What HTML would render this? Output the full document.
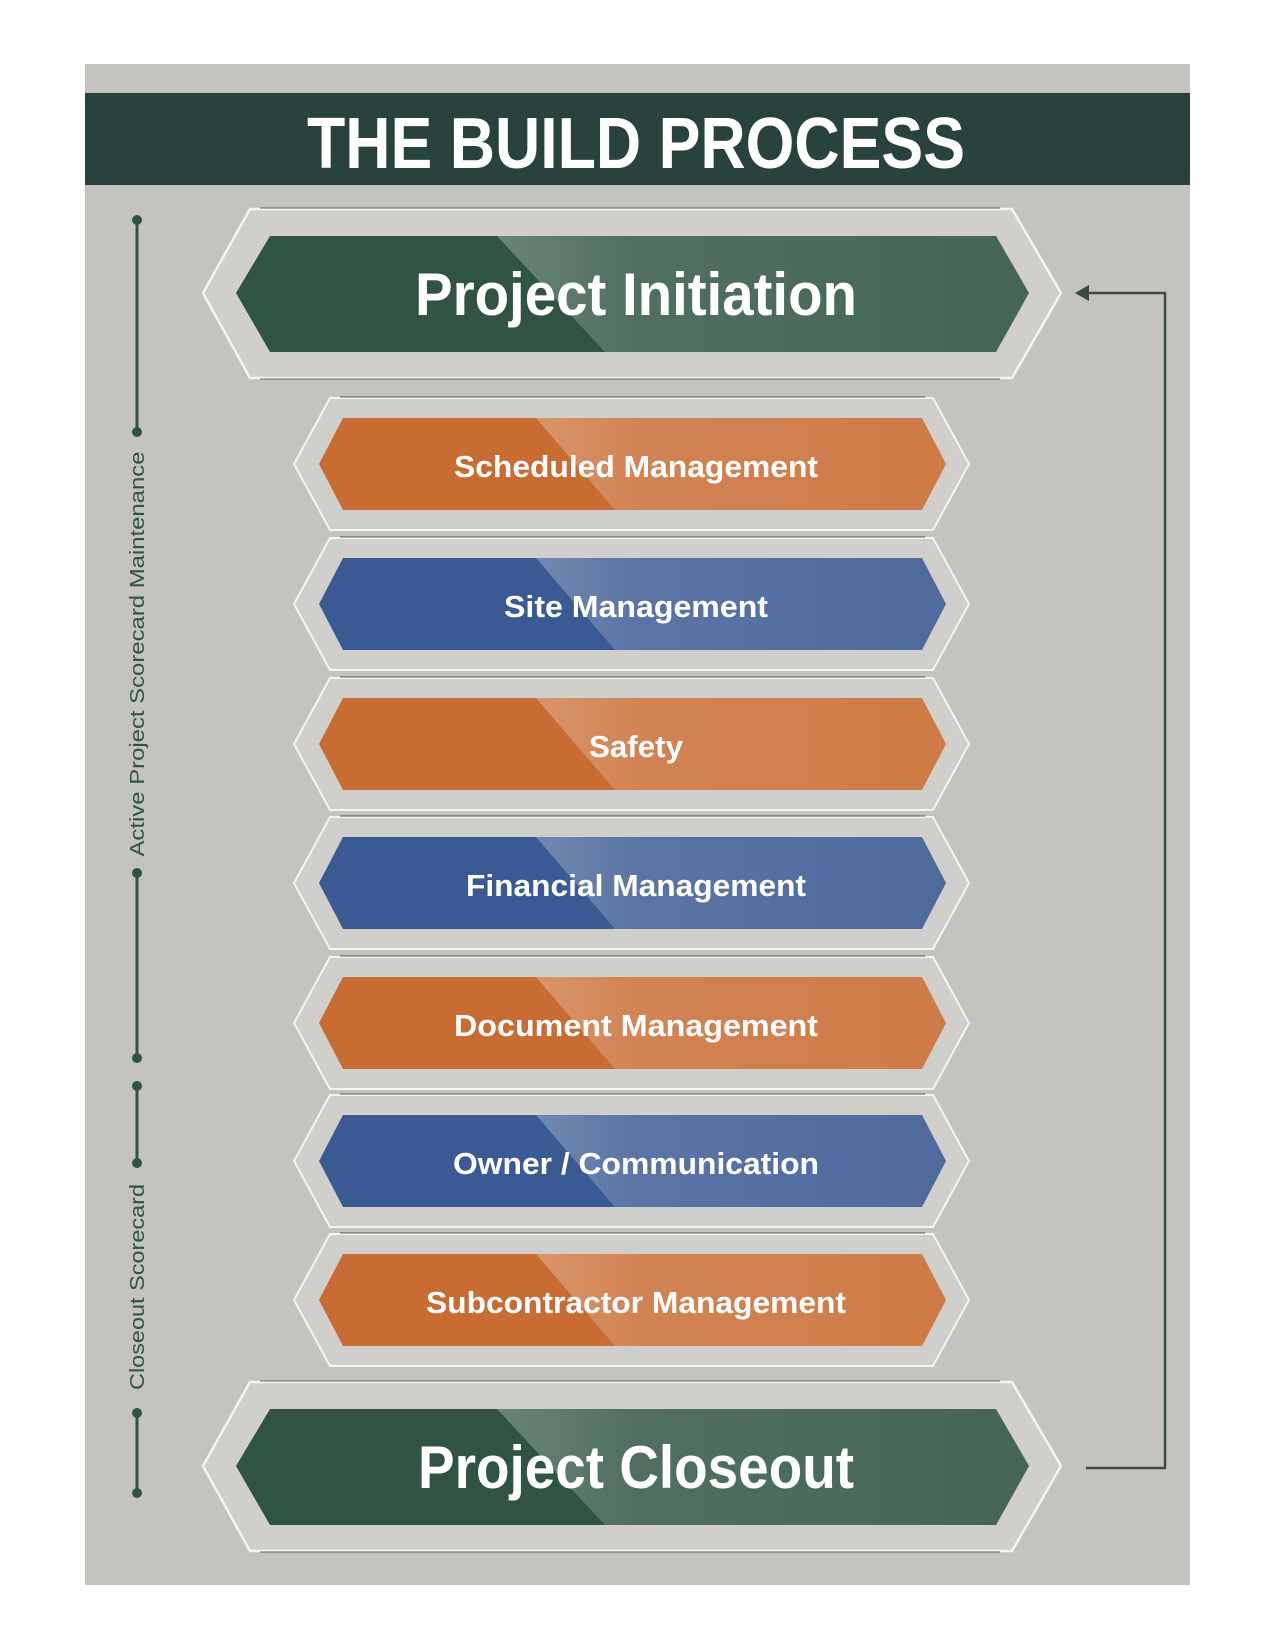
<!DOCTYPE html>
<html><head><meta charset="utf-8"><style>
html,body{margin:0;padding:0;background:#fff;}
svg{display:block;}
text{font-family:"Liberation Sans",sans-serif;font-weight:bold;fill:#fff;}
</style></head><body>
<svg width="1275" height="1650" viewBox="0 0 1275 1650" xmlns="http://www.w3.org/2000/svg">
<defs>
  <clipPath id="cs"><polygon points="319,0 343,-46 922,-46 946,0 922,46 343,46"/></clipPath>
  <clipPath id="cb"><polygon points="236,0 270,-57 996,-57 1029,0 996,59 270,59"/></clipPath>
  <linearGradient id="gl" x1="0" y1="0" x2="1" y2="0">
    <stop offset="0" stop-color="#fff" stop-opacity="0.28"/>
    <stop offset="0.25" stop-color="#fff" stop-opacity="0.16"/>
    <stop offset="1" stop-color="#fff" stop-opacity="0.1"/>
  </linearGradient>
  <g id="small">
    <polygon points="294,0 330,-66 933,-66 969,0 933,66 330,66" fill="#d0cfcb" stroke="#f4f4f2" stroke-width="2"/>
    <line x1="340" y1="-67" x2="925" y2="-67" stroke="#3a3a38" stroke-opacity="0.55" stroke-width="1.5"/>
    <polygon points="319,0 343,-46 922,-46 946,0 922,46 343,46" fill="currentColor"/>
    <polygon points="536,-46 950,-46 950,46 615,46" fill="url(#gl)" clip-path="url(#cs)"/>
  </g>
  <g id="big">
    <polygon points="203,0 250,-84 1012,-84 1061,0 1012,85 250,85" fill="#d0cfcb" stroke="#f4f4f2" stroke-width="2.5"/>
    <line x1="260" y1="-85" x2="1000" y2="-85" stroke="#3a3a38" stroke-opacity="0.5" stroke-width="1.5"/>
    <line x1="260" y1="86" x2="1000" y2="86" stroke="#3a3a38" stroke-opacity="0.5" stroke-width="1.5"/>
    <polygon points="236,0 270,-57 996,-57 1029,0 996,59 270,59" fill="#2f5443"/>
    <polygon points="497,-57 1035,-57 1035,59 605,59" fill="url(#gl)" clip-path="url(#cb)"/>
  </g>
</defs>
<rect x="85" y="64" width="1105" height="1521" fill="#c4c3bf"/>
<rect x="85" y="93" width="1105" height="92" fill="#28433d"/>
<text x="636" y="168" font-size="72" text-anchor="middle" textLength="658" lengthAdjust="spacingAndGlyphs">THE BUILD PROCESS</text>

<!-- sidebar -->
<g stroke="#2f5443" stroke-width="3" fill="#2f5443">
  <line x1="137" y1="220" x2="137" y2="432"/>
  <line x1="137" y1="873" x2="137" y2="1058"/>
  <line x1="137" y1="1086" x2="137" y2="1163"/>
  <line x1="137" y1="1413" x2="137" y2="1493"/>
  <circle cx="137" cy="220" r="5" stroke="none"/>
  <circle cx="137" cy="432" r="5" stroke="none"/>
  <circle cx="137" cy="873" r="5" stroke="none"/>
  <circle cx="137" cy="1058" r="5" stroke="none"/>
  <circle cx="137" cy="1086" r="5" stroke="none"/>
  <circle cx="137" cy="1163" r="5" stroke="none"/>
  <circle cx="137" cy="1413" r="5" stroke="none"/>
  <circle cx="137" cy="1493" r="5" stroke="none"/>
</g>
<text transform="translate(144,654) rotate(-90)" font-size="20" text-anchor="middle" textLength="405" lengthAdjust="spacingAndGlyphs" style="fill:#2f5443;font-weight:normal">Active Project Scorecard Maintenance</text>
<text transform="translate(144,1287) rotate(-90)" font-size="20" text-anchor="middle" textLength="206" lengthAdjust="spacingAndGlyphs" style="fill:#2f5443;font-weight:normal">Closeout Scorecard</text>

<!-- connector -->
<polyline points="1086,1468 1165,1468 1165,293 1086,293" fill="none" stroke="#3c4a44" stroke-width="2.5"/>
<polygon points="1075,293 1089,285 1089,301" fill="#3c4a44"/>

<!-- big hexes -->
<g transform="translate(0,293)"><use href="#big"/></g>
<text x="636" y="315" font-size="60" text-anchor="middle" textLength="442" lengthAdjust="spacingAndGlyphs">Project Initiation</text>
<g transform="translate(0,1466)"><use href="#big"/></g>
<text x="636" y="1488" font-size="60" text-anchor="middle" textLength="436" lengthAdjust="spacingAndGlyphs">Project Closeout</text>

<!-- small hexes -->
<g transform="translate(0,464)" color="#c96c33"><use href="#small"/></g>
<text x="636" y="477" font-size="31" text-anchor="middle" textLength="364" lengthAdjust="spacingAndGlyphs">Scheduled Management</text>
<g transform="translate(0,604)" color="#3a5a93"><use href="#small"/></g>
<text x="636" y="617" font-size="31" text-anchor="middle" textLength="264" lengthAdjust="spacingAndGlyphs">Site Management</text>
<g transform="translate(0,744)" color="#c96c33"><use href="#small"/></g>
<text x="636" y="757" font-size="31" text-anchor="middle" textLength="94" lengthAdjust="spacingAndGlyphs">Safety</text>
<g transform="translate(0,883)" color="#3a5a93"><use href="#small"/></g>
<text x="636" y="896" font-size="31" text-anchor="middle" textLength="340" lengthAdjust="spacingAndGlyphs">Financial Management</text>
<g transform="translate(0,1023)" color="#c96c33"><use href="#small"/></g>
<text x="636" y="1036" font-size="31" text-anchor="middle" textLength="364" lengthAdjust="spacingAndGlyphs">Document Management</text>
<g transform="translate(0,1161)" color="#3a5a93"><use href="#small"/></g>
<text x="636" y="1174" font-size="31" text-anchor="middle" textLength="366" lengthAdjust="spacingAndGlyphs">Owner / Communication</text>
<g transform="translate(0,1300)" color="#c96c33"><use href="#small"/></g>
<text x="636" y="1313" font-size="31" text-anchor="middle" textLength="420" lengthAdjust="spacingAndGlyphs">Subcontractor Management</text>
</svg>
</body></html>
